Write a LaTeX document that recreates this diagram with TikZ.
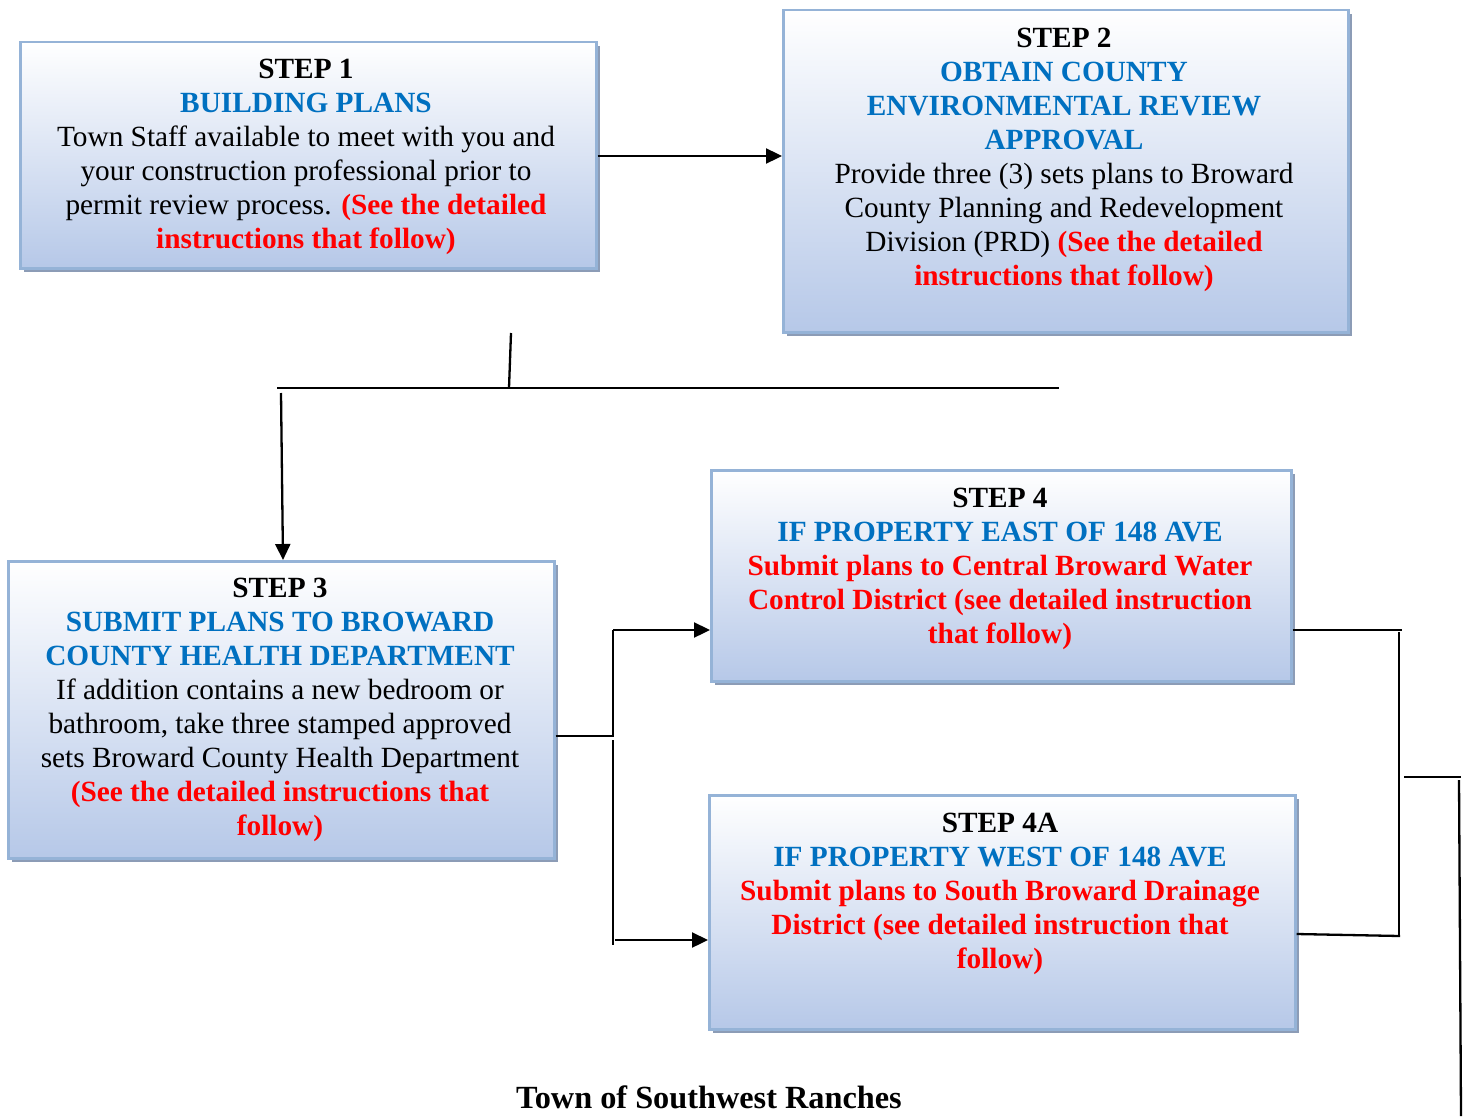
\documentclass[tikz,border=0pt]{standalone}
\usepackage{fontspec}
\setmainfont{Liberation Serif}
\usetikzlibrary{arrows.meta,shadows,calc}
\definecolor{tblue}{RGB}{0,112,192}
\definecolor{tred}{RGB}{255,0,0}
\definecolor{boxline}{RGB}{149,179,215}
\definecolor{boxbot}{RGB}{182,200,232}
\definecolor{shadowc}{RGB}{140,156,182}
\tikzset{
  stepbox/.style={draw=boxline, line width=2.5pt, top color=white, bottom color=boxbot,
    anchor=north west, inner sep=0pt,
    general shadow={fill=shadowc, shadow xshift=4pt, shadow yshift=-4pt}},
  steptext/.style={anchor=north, align=center, inner sep=0pt,
    font={\fontsize{29.3}{34}\selectfont}},
  conn/.style={line width=2.3pt, black},
  arr/.style={conn, -{Triangle[length=16pt,width=15pt]}},
}
\newcommand{\bl}[1]{\textcolor{tblue}{\textbf{#1}}}
\newcommand{\rd}[1]{\textcolor{tred}{\textbf{#1}}}
\begin{document}
\begin{tikzpicture}[x=1pt,y=-1pt]
\fill[white] (0,0) rectangle (1466,1116);
\useasboundingbox (0,0) rectangle (1466,1116);

% boxes
\node[stepbox, minimum width=576pt, minimum height=226pt] (s1) at (19,41) {};
\node[stepbox, minimum width=565pt, minimum height=322pt] (s2) at (782,9) {};
\node[stepbox, minimum width=546pt, minimum height=297pt] (s3) at (7,560) {};
\node[stepbox, minimum width=580pt, minimum height=211pt] (s4) at (710,469) {};
\node[stepbox, minimum width=586pt, minimum height=234pt] (s4a) at (708,794) {};

% texts
\node[steptext] (t1) at (306,59) {\textbf{STEP 1}\\
\bl{BUILDING PLANS}\\
Town Staff available to meet with you and\\
your construction professional prior to\\
permit review process. \rd{(See the detailed}\\
\rd{instructions that follow)}};

\node[steptext] (t2) at (1064,28) {\textbf{STEP 2}\\
\bl{OBTAIN COUNTY}\\
\bl{ENVIRONMENTAL REVIEW}\\
\bl{APPROVAL}\\
Provide three (3) sets plans to Broward\\
County Planning and Redevelopment\\
Division (PRD) \rd{(See the detailed}\\
\rd{instructions that follow)}};

\node[steptext] (t3) at (280,578) {\textbf{STEP 3}\\
\bl{SUBMIT PLANS TO BROWARD}\\
\bl{COUNTY HEALTH DEPARTMENT}\\
If addition contains a new bedroom or\\
bathroom, take three stamped approved\\
sets Broward County Health Department\\
\rd{(See the detailed instructions that}\\
\rd{follow)}};

\node[steptext] (t4) at (1000,488) {\textbf{STEP 4}\\
\bl{IF PROPERTY EAST OF 148 AVE}\\
\rd{Submit plans to Central Broward Water}\\
\rd{Control District (see detailed instruction}\\
\rd{that follow)}};

\node[steptext] (t4a) at (1000,813) {\textbf{STEP 4A}\\
\bl{IF PROPERTY WEST OF 148 AVE}\\
\rd{Submit plans to South Broward Drainage}\\
\rd{District (see detailed instruction that}\\
\rd{follow)}};

\node[steptext, font={\fontsize{32.3}{37}\selectfont}] (foot) at (709,1086) {\textbf{Town of Southwest Ranches}};

% connectors
\coordinate (a1) at (511,333);
\coordinate (a2) at (509,388);
\coordinate (h1) at (277,388);
\coordinate (h2) at (1059,388);
\coordinate (d1) at (281,393);
\draw[arr] (s1.east |- 0,156) -- (s2.west |- 0,156);
\draw[conn] (a1) -- (a2);
\draw[conn] (h1) -- (h2);
\draw[arr] (d1) -- (s3.north -| 283,0);

\coordinate (b1) at (613,736);
\coordinate (b2) at (613,630);
\coordinate (b3) at (613,740);
\coordinate (b4) at (613,945);
\coordinate (b5) at (615,940);
\draw[conn] (s3.east |- 0,736) -- (b1) -- (b2);
\draw[arr] (b2) -- (s4.west |- 0,630);
\draw[conn] (b3) -- (b4);
\draw[arr] (b5) -- (s4a.west |- 0,940);

\coordinate (c1) at (1402,630);
\coordinate (c2) at (1399,632);
\coordinate (c3) at (1399,936);
\coordinate (c4) at (1400,936);
\draw[conn] (s4.east |- 0,630) -- (c1);
\draw[conn] (c2) -- (c3);
\draw[conn] (s4a.east |- 0,934) -- (c4);

\coordinate (e1) at (1404,777);
\coordinate (e2) at (1461,777);
\coordinate (e3) at (1459,780);
\coordinate (e4) at (1461,1116);
\draw[conn] (e1) -- (e2);
\draw[conn] (e3) -- (e4);
\end{tikzpicture}
\end{document}
